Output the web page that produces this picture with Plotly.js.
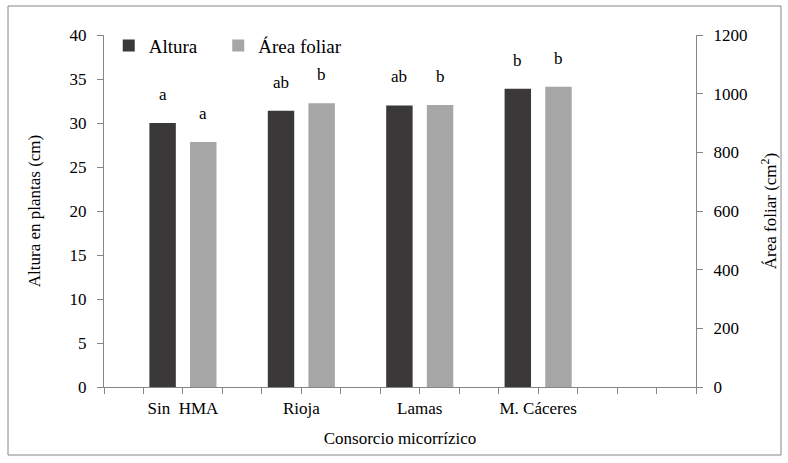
<!DOCTYPE html>
<html><head><meta charset="utf-8">
<script src="https://cdn.plot.ly/plotly-3.0.1.min.js"></script>
<style>html,body{margin:0;padding:0;background:#fff}#chart{width:788px;height:463px}</style>
</head><body><div id="chart"></div>
<script>
const categories = ["Sin\u00a0 HMA", "Rioja", "Lamas", "M. Cáceres"];
const altura = [30.0, 31.4, 32.0, 33.9];
const areaFoliar = [835, 967, 961, 1024];
const letrasAltura = ["a", "ab", "ab", "b"];
const letrasArea = ["a", "b", "b", "b"];

const xpos = categories.map((c, i) => i * 3 + 2);
const F = (s) => ({family: "Liberation Serif", color: "#000", size: s || 17});
const axisColor = "#868686";

const tickvals = [];
const ticktext = [];
for (let k = 0; k <= 15; k++) {
  tickvals.push(k);
  const idx = xpos.indexOf(k);
  ticktext.push(idx >= 0 ? categories[idx] : "");
}

const traces = [
  {type: "bar", name: "Altura", x: xpos, y: altura, width: 0.67, offset: -0.85,
   marker: {color: "#3a3838"}, yaxis: "y", hoverinfo: "none", legend: "legend"},
  {type: "bar", name: "Área foliar", x: xpos, y: areaFoliar, width: 0.67, offset: 0.18,
   marker: {color: "#a6a6a6"}, yaxis: "y2", hoverinfo: "none", legend: "legend2"}
];

const annotations = [];
xpos.forEach((x, i) => {
  annotations.push({x: x - 0.515, y: altura[i], xref: "x", yref: "y", text: letrasAltura[i],
    showarrow: false, yanchor: "bottom", yshift: 17, font: F(17)});
  annotations.push({x: x + 0.515, y: areaFoliar[i], xref: "x", yref: "y2", text: letrasArea[i],
    showarrow: false, yanchor: "bottom", yshift: 17, font: F(17)});
});

const legendBase = (x) => ({orientation: "h", x: x, y: 0.97, xanchor: "left", yanchor: "middle",
  font: F(19), bgcolor: "rgba(0,0,0,0)", itemclick: false});

const layout = {
  width: 788, height: 463,
  margin: {l: 104, r: 92, t: 35, b: 76},
  paper_bgcolor: "#fff", plot_bgcolor: "#fff",
  font: F(17),
  barmode: "overlay",
  showlegend: true,
  legend: legendBase(0.008),
  legend2: legendBase(0.193),
  xaxis: {range: [0, 15], tickmode: "array", tickvals: tickvals, ticktext: ticktext,
    showgrid: false, zeroline: false, showline: true, linecolor: axisColor, linewidth: 1,
    ticks: "outside", ticklen: 6, tickcolor: axisColor, tickfont: F(17),
    title: {text: "Consorcio micorrízico", font: F(17), standoff: 14}},
  yaxis: {range: [0, 40], dtick: 5, showgrid: false, zeroline: false, showline: true,
    linecolor: axisColor, ticks: "outside", ticklen: 6, tickcolor: axisColor, tickfont: F(17),
    ticklabelstandoff: 7,
    title: {text: "Altura en plantas (cm)", font: F(17), standoff: 24}},
  yaxis2: {range: [0, 1200], dtick: 200, overlaying: "y", side: "right", showgrid: false,
    zeroline: false, showline: true, linecolor: axisColor, ticks: "outside", ticklen: 6,
    tickcolor: axisColor, tickfont: F(17), ticklabelstandoff: 7,
    title: {text: "Área foliar (cm<sup>2</sup>)", font: F(17), standoff: 17}},
  annotations: annotations,
  shapes: [{type: "rect", xref: "paper", yref: "paper",
    x0: -96 / 592, x1: 677 / 592, y0: -68 / 352, y1: 1 + 29 / 352,
    line: {color: "#868686", width: 1}, fillcolor: "rgba(0,0,0,0)"}]
};

Plotly.newPlot("chart", traces, layout, {displayModeBar: false, staticPlot: true});
</script></body></html>
